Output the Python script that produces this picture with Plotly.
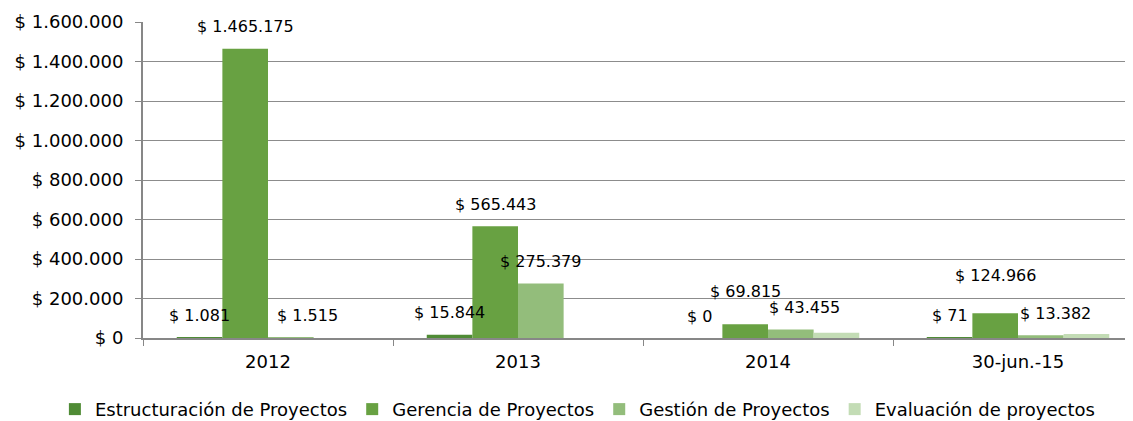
import plotly.graph_objects as go

categories = ["2012", "2013", "2014", "30-jun.-15"]
series_names = ["Estructuración de Proyectos", "Gerencia de Proyectos",
                "Gestión de Proyectos", "Evaluación de proyectos"]
estructuracion = [1081, 15844, 0, 71]
gerencia = [1465175, 565443, 69815, 124966]
gestion = [1515, 275379, 43455, 13382]
evaluacion = [None, None, 27000, 20000]
# which series show data labels
labelled = [True, True, True, False]

y_tickvals = [0, 200000, 400000, 600000, 800000, 1000000, 1200000, 1400000, 1600000]

colors = ["#4f8b35", "#68a142", "#93bd7b", "#c3dcb5"]
FONT = "DejaVu Sans"


def fmt(v):
    return "$ " + f"{int(v):,}".replace(",", ".")


y_ticktext = [fmt(v) for v in y_tickvals]
all_series = [estructuracion, gerencia, gestion, evaluacion]

fig = go.Figure()
for name, vals, col in zip(series_names, all_series, colors):
    fig.add_trace(go.Bar(x=categories, y=vals, name=name, marker_color=col,
                         marker_line_width=0))

# label placement tweaks (pixels) keyed by (series index, category index)
extra_dx = {(2, 0): 17, (2, 2): 14, (2, 3): 15}
extra_dy = {(1, 2): 11, (1, 3): 16}

cat_px = 250.0
bargap = 0.27
bar_px = cat_px * (1 - bargap) / 4
annotations = []
for s, vals in enumerate(all_series):
    if not labelled[s]:
        continue
    for c, v in enumerate(vals):
        if v is None:
            continue
        annotations.append(dict(
            x=c, y=v, xref="x", yref="y",
            text=fmt(v), showarrow=False,
            xshift=(s - 1.5) * bar_px + extra_dx.get((s, c), 0),
            yshift=22 + extra_dy.get((s, c), 0),
            yanchor="middle", xanchor="center",
            font=dict(family=FONT, size=16, color="#000000"),
        ))

# the page body adds an 8px offset, so the figure is 8px smaller on each side
fig.update_layout(
    width=1125, height=413,
    margin=dict(l=135, r=0, t=14, b=83, autoexpand=False),
    paper_bgcolor="white", plot_bgcolor="white",
    barmode="group", bargap=bargap, bargroupgap=0,
    font=dict(family=FONT, size=18, color="#000000"),
    annotations=annotations,
    showlegend=True,
    legend=dict(orientation="h", xref="paper", yref="paper",
                x=-0.089, xanchor="left", y=-0.226, yanchor="middle",
                font=dict(family=FONT, size=18, color="#000000"),
                itemwidth=30, tracegroupgap=0, traceorder="normal"),
)
fig.update_xaxes(
    type="category", range=[-0.5, 3.46],
    showline=True, linecolor="#878787", linewidth=2,
    ticks="outside", ticklen=6, tickcolor="#878787", tickson="boundaries",
    showgrid=False, ticklabelstandoff=6,
    tickfont=dict(family=FONT, size=18, color="#000000"),
)
fig.update_yaxes(
    range=[0, 1600000], tickvals=y_tickvals, ticktext=y_ticktext,
    showline=True, linecolor="#878787", linewidth=2,
    ticks="outside", ticklen=6, tickcolor="#878787",
    showgrid=True, gridcolor="#8c8c8c", gridwidth=1,
    zeroline=False, ticklabelstandoff=8,
    tickfont=dict(family=FONT, size=18, color="#000000"),
)

fig.write_html("out.html")
